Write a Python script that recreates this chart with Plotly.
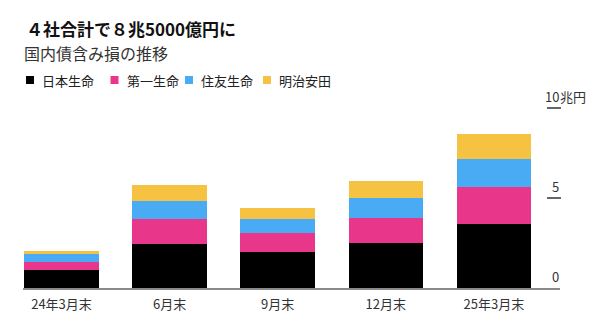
import plotly.graph_objects as go

# ---- data (兆円) ----
categories = ["24年3月末", "6月末", "9月末", "12月末", "25年3月末"]
series_names = ["日本生命", "第一生命", "住友生命", "明治安田"]
nippon = [1.00, 2.43, 2.00, 2.52, 3.57]
daiichi = [0.44, 1.39, 1.04, 1.39, 2.06]
sumitomo = [0.43, 1.00, 0.80, 1.07, 1.52]
meiji = [0.18, 0.89, 0.59, 0.96, 1.41]
series_values = [nippon, daiichi, sumitomo, meiji]
colors = ["#000000", "#E8368A", "#4AABF5", "#F5C242"]
y_tick_vals = [0, 5, 10]
y_tick_text = ["0", "5", "10"]
y_unit = "兆円"
title_text = "４社合計で８兆5000億円に"
subtitle_text = "国内債含み損の推移"

FONT = "Noto Sans CJK JP"
W, H = 604, 316
ML, MR, MT, MB = 23, 44, 99, 28
PW = W - ML - MR
PH = H - MT - MB


def px_x(px):
    return (px - ML) / PW


def px_y(py):
    return (H - MB - py) / PH


fig = go.Figure()
for name, vals, col in zip(series_names, series_values, colors):
    fig.add_trace(go.Bar(x=categories, y=vals, name=name, marker_color=col,
                         marker_line_width=0, showlegend=False))

annotations = []
shapes = []

# title & subtitle
annotations.append(dict(text="<b>" + title_text + "</b>", xref="paper", yref="paper",
                        x=px_x(24), y=px_y(28.5), xanchor="left", yanchor="middle",
                        showarrow=False, font=dict(family=FONT, size=17, color="#111111")))
annotations.append(dict(text=subtitle_text, xref="paper", yref="paper",
                        x=px_x(22), y=px_y(52.5), xanchor="left", yanchor="middle",
                        showarrow=False, font=dict(family=FONT, size=16, color="#333333")))

# legend (squares + labels)
legend_x = [26, 110.5, 185, 263]
for lx, name, col in zip(legend_x, series_names, colors):
    shapes.append(dict(type="rect", xref="paper", yref="paper",
                       x0=px_x(lx), x1=px_x(lx + 8), y0=px_y(84), y1=px_y(76),
                       fillcolor=col, line_width=0))
    annotations.append(dict(text=name, xref="paper", yref="paper",
                            x=px_x(lx + 14), y=px_y(80), xanchor="left", yanchor="middle",
                            showarrow=False, font=dict(family=FONT, size=13, color="#222222")))

# right-side value ticks
for v, t in zip(y_tick_vals, y_tick_text):
    annotations.append(dict(text=t, xref="paper", yref="y", x=px_x(561), y=v,
                            xanchor="right", yanchor="bottom", yshift=0, showarrow=False,
                            font=dict(family=FONT, size=13, color="#333333")))
    if v != 0:
        shapes.append(dict(type="line", xref="paper", yref="y",
                           x0=px_x(547), x1=px_x(561), y0=v, y1=v,
                           line=dict(color="#333333", width=1.5)))
    if v == max(y_tick_vals):
        annotations.append(dict(text=y_unit, xref="paper", yref="y", x=px_x(561), y=v,
                                xanchor="left", yanchor="bottom", yshift=0, xshift=-3,
                                showarrow=False,
                                font=dict(family=FONT, size=13, color="#333333")))

fig.update_layout(
    width=W, height=H,
    margin=dict(l=ML, r=MR, t=MT, b=MB, autoexpand=False),
    paper_bgcolor="white", plot_bgcolor="white",
    barmode="stack", bargap=0.31,
    font=dict(family=FONT, size=13, color="#333333"),
    xaxis=dict(range=[-0.356, 4.611], showline=True, linecolor="#8a8a8a", linewidth=1.5,
               showgrid=False, zeroline=False, ticks="", ticklabelstandoff=4,
               automargin=False,
               tickfont=dict(size=13, color="#333333"), fixedrange=True),
    yaxis=dict(range=[0, PH / 18.0], showticklabels=False, showgrid=False, zeroline=False,
               automargin=False, fixedrange=True),
    annotations=annotations,
    shapes=shapes,
)

fig.write_html("out.html")
